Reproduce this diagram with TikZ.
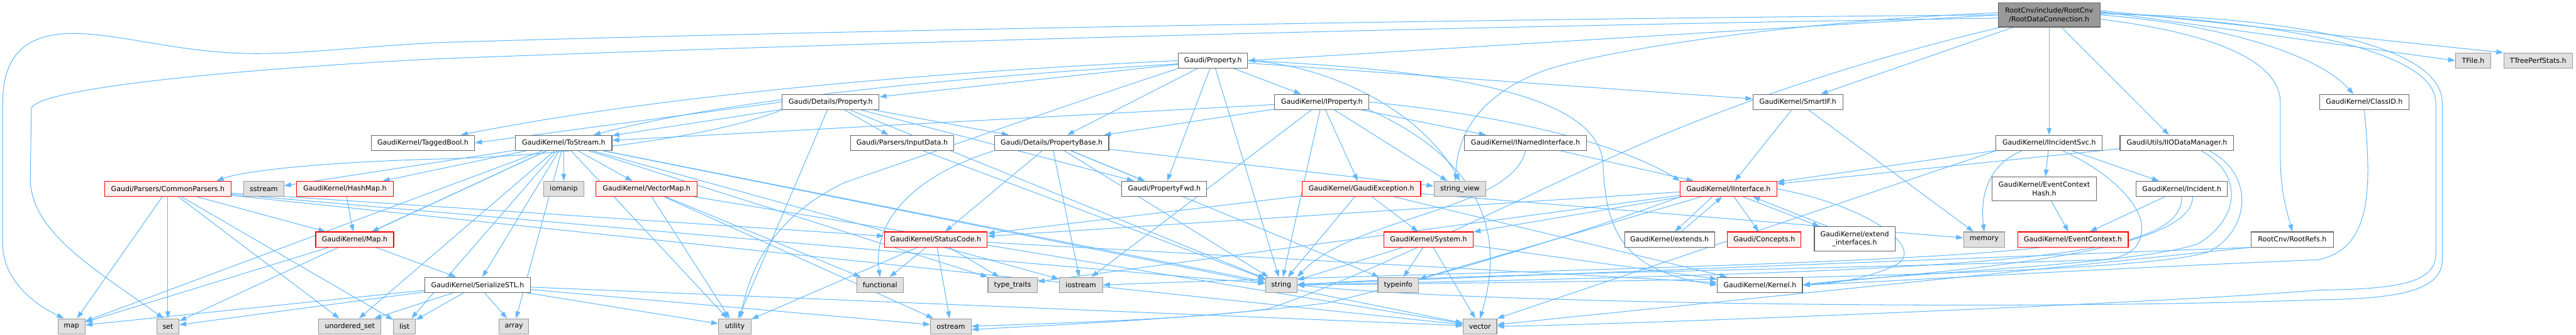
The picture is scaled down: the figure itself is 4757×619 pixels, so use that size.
\documentclass[tikz,border=0pt]{standalone}
\usepackage{fontspec}
\setmainfont{DejaVu Sans}
\usetikzlibrary{arrows.meta,positioning,calc}
\definecolor{depblue}{HTML}{63B8FF}
\definecolor{boxline}{HTML}{666666}
\definecolor{extfill}{HTML}{E0E0E0}
\definecolor{extline}{HTML}{999999}
\definecolor{truncfill}{HTML}{FFF0F0}
\definecolor{rootfill}{HTML}{999999}
\pgfdeclarelayer{bg}
\pgfsetlayers{bg,main}

\begin{document}
\begin{tikzpicture}[x=1pt,y=1pt,font=\fontsize{12.8}{15.5}\selectfont,
  hdr/.style={draw=boxline,fill=white,line width=1.3pt,minimum height=28,inner sep=0pt,align=center},
  sys/.style={hdr,draw=extline,fill=extfill},
  trunc/.style={hdr,draw=red,fill=truncfill},
  rootbox/.style={hdr,draw=boxline,fill=rootfill,minimum height=45},
  dep/.style={draw=depblue,line width=1.2pt,-{Triangle[length=13pt,width=9pt]}}]
  \useasboundingbox (0,0) rectangle (4757,-619);

  \node[rootbox,minimum width=188] (root) at (3784,-27.5) {RootCnv/include/RootCnv\\/RootDataConnection.h};

  \node[hdr,minimum width=128] (prop) at (2240,-112) {Gaudi/Property.h};
  \node[sys,minimum width=65] (tfile) at (4567,-112) {TFile.h};
  \node[sys,minimum width=127] (tperf) at (4687,-112) {TTreePerfStats.h};

  \node[hdr,minimum width=179] (detprop) at (1534,-188.5) {Gaudi/Details/Property.h};
  \node[hdr,minimum width=174] (iprop) at (2441,-188.5) {GaudiKernel/IProperty.h};
  \node[hdr,minimum width=166] (smartif) at (3320,-188.5) {GaudiKernel/SmartIF.h};
  \node[hdr,minimum width=165] (classid) at (4366,-188.5) {GaudiKernel/ClassID.h};

  \node[hdr,minimum width=191] (tagbool) at (781,-264) {GaudiKernel/TaggedBool.h};
  \node[hdr,minimum width=178] (tostream) at (1041,-264) {GaudiKernel/ToStream.h};
  \node[hdr,minimum width=191] (inputdata) at (1666,-264) {Gaudi/Parsers/InputData.h};
  \node[hdr,minimum width=211] (propbase) at (1942,-264) {Gaudi/Details/PropertyBase.h};
  \node[hdr,minimum width=226] (inamed) at (2817,-264) {GaudiKernel/INamedInterface.h};
  \node[hdr,minimum width=196] (iincsvc) at (3784,-264) {GaudiKernel/IIncidentSvc.h};
  \node[hdr,minimum width=210] (iiodm) at (4020,-264) {GaudiUtils/IIODataManager.h};

  \node[trunc,minimum width=233] (cparsers) at (310,-349) {Gaudi/Parsers/CommonParsers.h};
  \node[sys,minimum width=74] (sstream) at (487,-349) {sstream};
  \node[trunc,minimum width=178] (hashmap) at (637,-349) {GaudiKernel/HashMap.h};
  \node[sys,minimum width=74] (iomanip) at (1041,-349) {iomanip};
  \node[trunc,minimum width=187] (vecmap) at (1194,-349) {GaudiKernel/VectorMap.h};
  \node[hdr,minimum width=157] (propfwd) at (2150,-349) {Gaudi/PropertyFwd.h};
  \node[trunc,minimum width=219] (gexcept) at (2514,-349) {GaudiKernel/GaudiException.h};
  \node[sys,minimum width=96] (strview) at (2696,-349) {string\_view};
  \node[trunc,minimum width=178] (iiface) at (3192,-349) {GaudiKernel/IInterface.h};
  \node[hdr,minimum width=192,minimum height=44] (evhash) at (3775,-349) {GaudiKernel/EventContext\\Hash.h};
  \node[hdr,minimum width=168] (incident) at (4029,-349) {GaudiKernel/Incident.h};

  \node[trunc,minimum width=144] (mapH) at (655,-442.5) {GaudiKernel/Map.h};
  \node[trunc,minimum width=190] (statcode) at (1728,-442.5) {GaudiKernel/StatusCode.h};
  \node[trunc,minimum width=165] (system) at (2638,-442.5) {GaudiKernel/System.h};
  \node[hdr,minimum width=166] (extends) at (3083,-442.5) {GaudiKernel/extends.h};
  \node[trunc,minimum width=136] (concepts) at (3258,-442.5) {Gaudi/Concepts.h};
  \node[hdr,minimum width=149,minimum height=45] (extifaces) at (3425,-441.5) {GaudiKernel/extend\\\_interfaces.h};
  \node[sys,minimum width=76] (memory) at (3664,-442.5) {memory};
  \node[trunc,minimum width=204] (evctx) at (3828,-442.5) {GaudiKernel/EventContext.h};
  \node[hdr,minimum width=152] (rootrefs) at (4233,-442.5) {RootCnv/RootRefs.h};

  \node[hdr,minimum width=195] (serstl) at (882,-526.5) {GaudiKernel/SerializeSTL.h};
  \node[sys,minimum width=86] (functional) at (1625,-526.5) {functional};
  \node[sys,minimum width=91] (typetraits) at (1870,-526.5) {type\_traits};
  \node[sys,minimum width=80] (iostream) at (1996,-526.5) {iostream};
  \node[sys,minimum width=58] (string) at (2366,-526.5) {string};
  \node[sys,minimum width=75] (typeinfo) at (2582,-526.5) {typeinfo};
  \node[hdr,minimum width=157] (kernel) at (3250,-526.5) {GaudiKernel/Kernel.h};

  \node[sys,minimum width=50] (map) at (132,-603) {map};
  \node[sys,minimum width=41] (set) at (310,-603) {set};
  \node[sys,minimum width=115] (uset) at (646,-603) {unordered\_set};
  \node[sys,minimum width=41] (list) at (747,-603) {list};
  \node[sys,minimum width=55] (array) at (949,-603) {array};
  \node[sys,minimum width=60] (utility) at (1357,-603) {utility};
  \node[sys,minimum width=75] (ostream) at (1756,-603) {ostream};
  \node[sys,minimum width=62] (vector) at (2733,-603) {vector};

  \begin{pgfonlayer}{bg}
  \foreach \t in {smartif,iincsvc,iiodm} \draw[dep] (root) -- (\t);
  \draw[dep] (root.west) -- (prop.east);
  \draw[dep] ([yshift=6]root.east) -- (tfile.west);
  \draw[dep] ([yshift=8]root.east) -- (tperf.north west);
  \draw[dep] (root.east) .. controls (4100,-45) and (4280,-100) .. ([xshift=-20]classid.north);
  \draw[dep] ([yshift=-8]root.east) .. controls (4080,-60) and (4211,-110) .. (4211,-190)
    -- (4211,-290) .. controls (4211,-360) and (4226,-400) .. (rootrefs.north);
  \draw[dep] ([yshift=4]root.east) .. controls (4200,-40) and (4498,-90) .. (4498,-190) -- (4498,-470)
    .. controls (4498,-525) and (4420,-534) .. (4283,-536) .. controls (4000,-560) and (3000,-600) .. (vector.east);
  \draw[dep] ([yshift=2]root.east) .. controls (4220,-30) and (4510,-80) .. (4510,-190) -- (4510,-480)
    .. controls (4510,-540) and (4420,-552) .. (4280,-554) .. controls (3700,-575) and (2700,-560) .. (string.east);
  \draw[dep] (root.west) .. controls (2600,-36) and (1400,-60) .. (800,-79) .. controls (620,-90) and (560,-99) .. (474,-99)
    .. controls (330,-99) and (220,-60) .. (128,-62) .. controls (40,-64) and (5,-110) .. (5,-190) -- (5,-450)
    .. controls (5,-510) and (50,-555) .. ([xshift=-14]map.north);
  \draw[dep] ([yshift=-6]root.west) .. controls (2600,-50) and (1500,-82) .. (800,-109)
    .. controls (400,-130) and (70,-165) .. (58,-200) -- (56,-330) .. controls (56,-430) and (180,-500) .. ([xshift=-8]set.north);
  \draw[dep] ([yshift=4]root.west) .. controls (3300,-40) and (2950,-95) .. (2850,-131)
    .. controls (2720,-180) and (2690,-260) .. ([xshift=-8]strview.north);
  \draw[dep] ([xshift=4]root.south west) .. controls (3400,-120) and (3150,-210) .. (2978,-290)
    .. controls (2800,-370) and (2500,-520) .. (2340,-571) .. controls (2200,-590) and (1950,-597) .. (ostream.east);

  \foreach \t in {detprop,propbase,propfwd,iprop,smartif,string} \draw[dep] (prop) -- (\t);
  \draw[dep] (prop.west) .. controls (1900,-125) and (1300,-160) .. ([xshift=70]tagbool.north);
  \draw[dep] ([yshift=-6]prop.west) .. controls (1900,-135) and (1400,-170) .. ([xshift=55]tostream.north);
  \draw[dep] (prop.south west) .. controls (1950,-200) and (1700,-290) .. (1560,-337)
    .. controls (1450,-390) and (1390,-470) .. ([xshift=10]utility.north);
  \draw[dep] (prop.east) .. controls (2700,-130) and (2950,-180) .. (2960,-300)
    .. controls (2965,-420) and (2990,-500) .. (kernel.west);
  \draw[dep] (prop.east) .. controls (2450,-120) and (2620,-200) .. (strview.north);

  \foreach \t in {propbase,inputdata,propfwd,tostream,utility,string} \draw[dep] (detprop) -- (\t);
  \draw[dep] (detprop.west) -- (tagbool.east);
  \draw[dep] (detprop.south west) .. controls (1300,-260) and (1000,-290) .. (800,-294)
    .. controls (600,-300) and (450,-315) .. ([xshift=90]cparsers.north);

  \foreach \t in {statcode,propfwd,iostream,string,strview,typeinfo} \draw[dep] (propbase) -- (\t);
  \draw[dep] (propbase.south west) .. controls (1700,-320) and (1610,-400) .. (functional.north);

  \foreach \t in {propbase,tostream,iostream,string,strview,gexcept,inamed} \draw[dep] (iprop) -- (\t);
  \draw[dep] (iprop.east) .. controls (2800,-215) and (3000,-270) .. (iiface.north west);
  \draw[dep] (iprop.south east) .. controls (2700,-280) and (2790,-400) .. (vector.north);

  \foreach \t in {map,set,sstream,hashmap,mapH,uset,list,serstl,array,iomanip,vecmap,string,vector,utility,iostream,typetraits}
    \draw[dep] (tostream) -- (\t);
  \draw[dep] (inputdata) -- (string);
  \foreach \t in {map,set,uset,list,mapH,statcode,string,vector} \draw[dep] (cparsers) -- (\t);
  \draw[dep] (hashmap) -- (mapH);
  \foreach \t in {map,serstl} \draw[dep] (mapH) -- (\t);
  \foreach \t in {functional,ostream,utility,vector} \draw[dep] (vecmap) -- (\t);
  \foreach \t in {map,set,uset,list,array,utility,ostream,vector} \draw[dep] (serstl) -- (\t);

  \draw[dep] (inamed) -- (iiface);
  \draw[dep] (inamed.south) .. controls (2790,-390) and (2500,-400) .. (string.north east);
  \foreach \t in {string,statcode,system,kernel,memory} \draw[dep] (gexcept) -- (\t);
  \foreach \t in {string,typeinfo,vector,kernel} \draw[dep] (system) -- (\t);
  \foreach \t in {concepts,statcode,system,typeinfo,typetraits} \draw[dep] (iiface) -- (\t);
  \draw[dep] ([xshift=-30]iiface.south) -- ([xshift=10]extends.north);
  \draw[dep] ([xshift=22]extends.north) -- ([xshift=-12]iiface.south);
  \draw[dep] ([xshift=27]iiface.south) -- ([xshift=-65]extifaces.north);
  \draw[dep] ([xshift=-50]extifaces.north) -- ([xshift=45]iiface.south);
  \draw[dep] (iiface.east) .. controls (3450,-380) and (3560,-460) .. (3500,-490)
    .. controls (3450,-515) and (3380,-525) .. (kernel.east);
  \draw[dep] (iiface.south west) .. controls (2950,-420) and (2700,-500) .. (2450,-560)
    .. controls (2200,-590) and (1950,-600) .. ([yshift=-6]ostream.east);

  \foreach \t in {iiface,memory} \draw[dep] (smartif) -- (\t);
  \foreach \t in {iiface,evhash,incident} \draw[dep] (iincsvc) -- (\t);
  \draw[dep] (iincsvc.south west) -- (vector.north east);
  \draw[dep] ([xshift=-50]iincsvc.south) .. controls (3680,-300) and (3655,-350) .. (memory.north);
  \draw[dep] ([xshift=25]iincsvc.south) .. controls (3900,-320) and (3955,-380) .. (3955,-420)
    .. controls (3955,-460) and (3930,-476) .. (3880,-480) .. controls (3300,-500) and (2700,-505) .. (string.east);
  \draw[dep] (evhash) -- (evctx);
  \draw[dep] (incident) -- (evctx);
  \draw[dep] (incident.south) .. controls (4030,-480) and (3700,-500) .. (string.east);
  \draw[dep] ([xshift=20]incident.south) .. controls (4050,-470) and (3600,-500) .. (kernel.east);
  \draw[dep] ([xshift=-60]evctx.south) .. controls (3500,-490) and (2600,-505) .. (iostream.east);
  \draw[dep] (iiodm) -- (iiface);
  \draw[dep] ([xshift=45]iiodm.south) .. controls (4140,-320) and (4140,-400) .. (4060,-450)
    .. controls (3950,-490) and (3500,-505) .. (kernel.east);
  \draw[dep] ([xshift=60]iiodm.south) .. controls (4160,-320) and (4160,-420) .. (4080,-465)
    .. controls (3950,-510) and (3000,-520) .. (string.east);
  \draw[dep] (classid.south) .. controls (4380,-350) and (4380,-460) .. (4280,-480)
    .. controls (3800,-500) and (3500,-520) .. (kernel.east);
  \foreach \t in {string,vector} \draw[dep] (rootrefs.south west) -- (\t);
  \foreach \t in {functional,typetraits,ostream,utility,kernel} \draw[dep] (statcode) -- (\t);
  \end{pgfonlayer}
\end{tikzpicture}
\end{document}
